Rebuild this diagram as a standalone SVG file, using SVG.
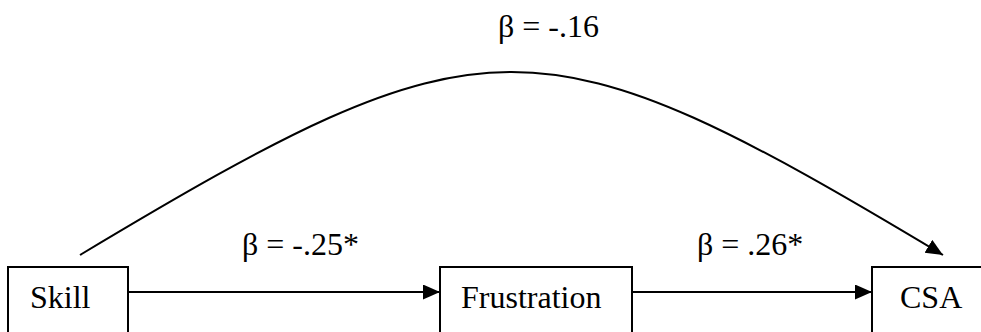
<svg xmlns="http://www.w3.org/2000/svg" width="981" height="332" viewBox="0 0 981 332">
<style>
.box{fill:#fff;stroke:#000;stroke-width:2}
.lbl{font-family:'Liberation Serif','DejaVu Serif','Times New Roman',Times,serif;font-size:32px;fill:#000}
.edge{fill:none;stroke:#000;stroke-width:2}
</style>
<defs>
<marker id="arr" markerUnits="userSpaceOnUse" markerWidth="18" markerHeight="16" refX="17" refY="7.5" orient="auto">
<path d="M0,0 L17,7.5 L0,15 z" fill="#000"/>
</marker>
</defs>
<rect width="981" height="332" fill="#fff"/>
<g id="connectors">
<path class="edge" d="M80,255 C487,11 536,11 943,255" marker-end="url(#arr)"/>
<path class="edge" d="M128,292 L440,292" marker-end="url(#arr)"/>
<path class="edge" d="M632,292 L872,292" marker-end="url(#arr)"/>
<text class="lbl" font-family="Liberation Serif, serif" x="498" y="37">β = -.16</text>
<text class="lbl" font-family="Liberation Serif, serif" x="242" y="255">β = -.25*</text>
<text class="lbl" font-family="Liberation Serif, serif" x="697" y="255">β = .26*</text>
</g>
<g id="skill">
<rect class="box" x="8" y="267" width="120" height="80"/>
<text class="lbl" x="30" y="308">Skill</text>
</g>
<g id="frustration">
<rect class="box" x="440" y="267" width="192" height="80"/>
<text class="lbl" x="461" y="308">Frustration</text>
</g>
<g id="csa">
<rect class="box" x="872" y="267" width="130" height="80"/>
<text class="lbl" x="900" y="308">CSA</text>
</g>
</svg>
